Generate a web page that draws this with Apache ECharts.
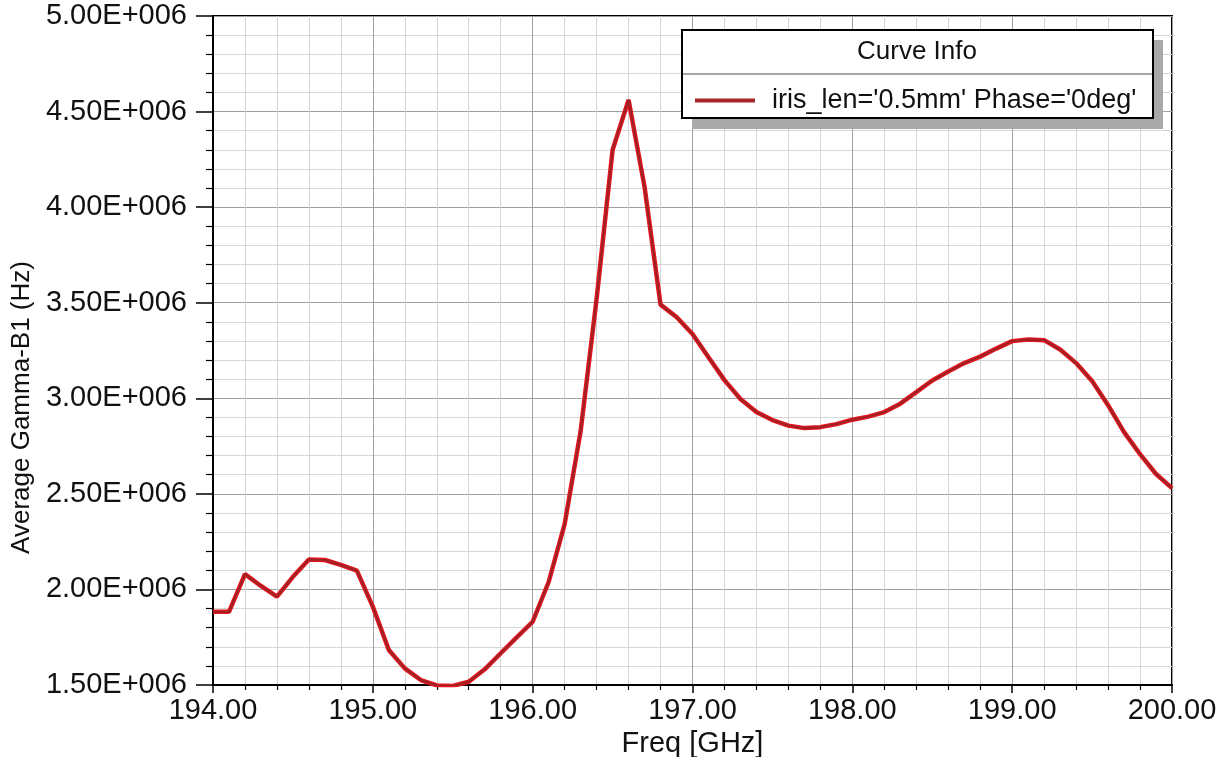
<!DOCTYPE html>
<html>
<head>
<meta charset="utf-8">
<script src="https://cdn.jsdelivr.net/npm/echarts@6/dist/echarts.min.js"></script>
<style>
html,body{margin:0;padding:0;background:#fff;}
#chart{width:1228px;height:757px;}
</style>
</head>
<body>
<div id="chart"></div>
<script>
const freqGHz = [194.0,194.1,194.2,194.3,194.4,194.5,194.6,194.7,194.8,194.9,
  195.0,195.1,195.2,195.3,195.4,195.5,195.6,195.7,195.8,195.9,
  196.0,196.1,196.2,196.3,196.4,196.5,196.6,196.7,196.8,196.9,
  197.0,197.1,197.2,197.3,197.4,197.5,197.6,197.7,197.8,197.9,
  198.0,198.1,198.2,198.3,198.4,198.5,198.6,198.7,198.8,198.9,
  199.0,199.1,199.2,199.3,199.4,199.5,199.6,199.7,199.8,199.9,200.0];
const gammaHz = [1.883e6,1.883e6,2.080e6,2.018e6,1.962e6,2.066e6,2.157e6,2.154e6,2.128e6,2.098e6,
  1.910e6,1.683e6,1.587e6,1.526e6,1.498e6,1.495e6,1.517e6,1.582e6,1.666e6,1.749e6,
  1.831e6,2.039e6,2.342e6,2.828e6,3.520e6,4.299e6,4.561e6,4.106e6,3.490e6,3.425e6,
  3.336e6,3.215e6,3.095e6,2.996e6,2.928e6,2.886e6,2.857e6,2.844e6,2.849e6,2.865e6,
  2.888e6,2.904e6,2.928e6,2.972e6,3.032e6,3.093e6,3.140e6,3.184e6,3.218e6,3.260e6,
  3.299e6,3.307e6,3.304e6,3.255e6,3.184e6,3.090e6,2.964e6,2.823e6,2.708e6,2.604e6,2.530e6];
const seriesName = "iris_len='0.5mm' Phase='0deg'";
const legendTitle = 'Curve Info';
const xAxisTitle = 'Freq [GHz]';
const yAxisTitle = 'Average Gamma-B1 (Hz)';

const FONT = "'Liberation Sans', Arial, sans-serif";
const pts = freqGHz.map((f, i) => [f, gammaHz[i]]);

const chart = echarts.init(document.getElementById('chart'), null, {renderer: 'canvas'});
chart.setOption({
  backgroundColor: '#ffffff',
  animation: false,
  grid: {left: 213, right: 56, top: 16, bottom: 72, show: true, borderColor: '#000', borderWidth: 2,
         backgroundColor: 'transparent', containLabel: false, outerBoundsMode: 'none'},
  xAxis: {
    type: 'value', min: 194, max: 200, interval: 1,
    name: xAxisTitle, nameLocation: 'middle', nameGap: 41,
    nameTextStyle: {fontFamily: FONT, fontSize: 29, color: '#111'},
    axisLine: {lineStyle: {color: '#000', width: 2}},
    axisTick: {show: true, length: 8, lineStyle: {color: '#000', width: 1.5}},
    minorTick: {show: true, splitNumber: 5, length: 5, lineStyle: {color: '#000', width: 1.2}},
    axisLabel: {formatter: v => v.toFixed(2), fontFamily: FONT, fontSize: 29, color: '#111', margin: 11},
    splitLine: {show: true, lineStyle: {color: '#a0a0a0', width: 1}},
    minorSplitLine: {show: true, lineStyle: {color: '#d6d6d6', width: 1}}
  },
  yAxis: {
    type: 'value', min: 1.5e6, max: 5e6, interval: 5e5,
    name: yAxisTitle, nameLocation: 'middle', nameRotate: 90, nameGap: 178,
    nameTextStyle: {fontFamily: FONT, fontSize: 26, color: '#111', padding: [0, 114, 0, 0]},
    axisLine: {lineStyle: {color: '#000', width: 2}},
    axisTick: {show: true, length: 17, lineStyle: {color: '#000', width: 1.5}},
    minorTick: {show: true, splitNumber: 5, length: 7, lineStyle: {color: '#000', width: 1.2}},
    axisLabel: {formatter: v => (v / 1e6).toFixed(2) + 'E+006', fontFamily: FONT, fontSize: 29, color: '#111', margin: 26},
    splitLine: {show: true, lineStyle: {color: '#a0a0a0', width: 1}},
    minorSplitLine: {show: true, lineStyle: {color: '#d6d6d6', width: 1}}
  },
  legend: {
    data: [seriesName],
    left: 690, top: 82, z: 20,
    icon: 'rect', itemWidth: 60, itemHeight: 4,
    itemStyle: {color: '#a3262b'},
    textStyle: {fontFamily: FONT, fontSize: 27, color: '#111', padding: [0, 0, 0, 12]}
  },
  graphic: [
    {type: 'rect', z: 10, shape: {x: 692, y: 40, width: 471, height: 89}, style: {fill: '#a9a9a9'}},
    {type: 'rect', z: 11, shape: {x: 682, y: 30, width: 471, height: 88}, style: {fill: '#fff', stroke: '#000', lineWidth: 2}},
    {type: 'line', z: 12, shape: {x1: 683, y1: 74, x2: 1152, y2: 74}, style: {stroke: '#888', lineWidth: 1.5}},
    {type: 'text', z: 12, x: 917, y: 52, style: {text: legendTitle, font: '26px ' + FONT, fill: '#111', align: 'center', verticalAlign: 'middle'}}
  ],
  series: [
    {name: seriesName, type: 'line', data: pts, showSymbol: false, symbol: 'none', z: 3,
     lineStyle: {color: '#e8141c', width: 4.5}, itemStyle: {color: '#a3262b'}},
    {name: seriesName, type: 'line', data: pts, showSymbol: false, symbol: 'none', z: 4,
     lineStyle: {color: '#9a2328', width: 2}, itemStyle: {color: '#a3262b'}}
  ]
});
</script>
</body>
</html>
